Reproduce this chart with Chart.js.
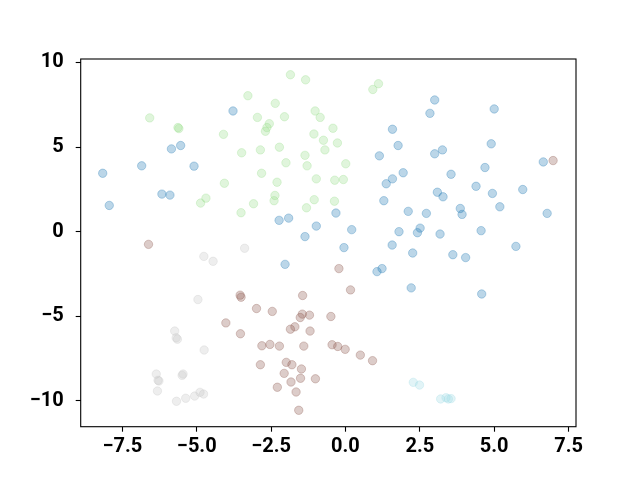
<!DOCTYPE html>
<html>
<head>
    <title>scatter clusters</title>
    <script src="https://cdn.jsdelivr.net/npm/chart.js"></script>
    <style>
        body { margin: 0; background: #fff; }
        #wrap { width: 640px; height: 480px; }
    </style>
</head>
<body>
<div id="wrap"><canvas id="myChart" width="640" height="480"></canvas></div>
<script>
    // cluster points
    const blueX = [-3.78, -5.85, -5.54, -6.85, -5.09, -8.16, 1.58, 1.77, 1.14, 1.94, 1.58, 1.37,
        3.00, 2.84, 5.00, 3.00, 3.26, 4.90, 3.55, 4.69, 6.65, 4.39,
        3.09, 3.28, 4.94, 5.96, 2.11, 2.72, 3.86, 3.92, 5.19, 6.78, 2.51, 2.42, 3.18, 4.56, 5.73, 2.26, 3.61, 4.04, 2.21, 4.58,
        1.29, -2.23, -1.91, -0.32, -0.98, -1.36, 0.21, 1.80, 1.57, -0.05, -2.03, 1.23, 1.06,
        -6.17, -5.90, -7.94];
    const blueY = [7.13, 4.89, 5.09, 3.89, 3.87, 3.45, 6.05, 5.09, 4.48, 3.48, 3.12, 2.83,
        7.78, 6.99, 7.25, 4.60, 4.83, 5.19, 3.39, 3.79, 4.12, 2.68,
        2.33, 2.06, 2.26, 2.49, 1.20, 1.08, 1.37, 1.02, 1.47, 1.08, 0.21, -0.06, -0.14, 0.06, -0.87, -1.26, -1.36, -1.53, -3.32, -3.68,
        1.83, 0.67, 0.80, 1.10, 0.33, -0.29, 0.12, 0.00, -0.79, -0.94, -1.93, -2.18, -2.36,
        2.22, 2.16, 1.55];

    const greenX = [-3.28, -6.58, -5.63, -5.60, -4.10, -3.49, -4.07,
        -1.85, -1.34, -2.36, 1.11, 0.92, -2.96, -2.05, -1.02, -0.85, -2.56, -2.64, -2.69, -0.42, -1.06,
        -0.74, -0.27, -0.69, -2.86, -2.22, -1.36, -2.00, -1.29, 0.01, -2.82, -0.98, -0.36, -0.07, -2.30,
        -2.37, -2.40, -3.09, -1.05, -1.31, -0.37, -3.51, -4.69, -4.87];
    const greenY = [8.03, 6.72, 6.15, 6.09, 5.75, 4.66, 2.86,
        9.27, 8.97, 7.58, 8.74, 8.40, 6.75, 6.79, 7.13, 6.75, 6.38, 6.15, 5.93, 6.11, 5.77,
        5.40, 5.24, 4.83, 4.83, 4.99, 4.51, 4.07, 3.89, 4.01, 3.45, 3.12, 3.04, 3.08, 2.92,
        2.14, 1.83, 1.65, 1.89, 1.41, 1.80, 1.12, 1.98, 1.69];

    const brownX = [6.98, -0.22, 0.17, -1.44, -6.62, -3.54, -3.51, -4.02, -3.53,
        -2.99, -2.46, -1.45, -1.52, -1.21, -0.49, -1.70, -1.85, -1.19, -2.81, -2.54, -2.22, -1.40,
        -0.45, -0.26, -0.01, 0.50, 0.91, -2.86, -1.99, -1.80, -1.48, -1.01, -2.06, -1.83, -1.51,
        -2.29, -1.66, -1.57];
    const brownY = [4.20, -2.18, -3.44, -3.77, -0.75, -3.75, -3.87, -5.39, -6.03,
        -4.54, -4.71, -4.87, -5.07, -4.93, -5.01, -5.62, -5.76, -5.87, -6.74, -6.66, -6.76, -6.76,
        -6.68, -6.78, -6.95, -7.29, -7.62, -7.86, -7.72, -7.86, -8.11, -8.69, -8.37, -8.88, -8.66,
        -9.19, -9.47, -10.55];

    const grayX = [-3.39, -4.76, -4.45, -4.96, -5.74, -5.69, -5.65, -4.75, -6.36, -6.27, -6.30,
        -5.46, -5.49, -6.32, -5.68, -5.37, -5.07, -4.89, -4.77];
    const grayY = [-0.98, -1.46, -1.75, -4.01, -5.87, -6.27, -6.35, -6.99, -8.41, -8.82, -8.78,
        -8.41, -8.49, -9.41, -10.02, -9.84, -9.71, -9.49, -9.59];

    const cyanX = [2.28, 2.49, 3.20, 3.38, 3.46, 3.55];
    const cyanY = [-8.90, -9.06, -9.88, -9.81, -9.88, -9.86];

    const xTicks = [-7.5, -5.0, -2.5, 0.0, 2.5, 5.0, 7.5];
    const yTicks = [-10, -5, 0, 5, 10];

    function pts(xs, ys) {
        return xs.map((x, i) => ({ x: x, y: ys[i] }));
    }
    function minus(s) {
        return String(s).replace('-', '\u2212');
    }

    // the full box round the plot area
    const frame = {
        id: 'frame',
        afterDatasetsDraw(chart) {
            const a = chart.chartArea;
            const c = chart.ctx;
            c.save();
            c.strokeStyle = '#000';
            c.lineWidth = 1.1;
            c.strokeRect(a.left, a.top, a.right - a.left, a.bottom - a.top);
            c.restore();
        }
    };

    function ds(label, xs, ys, rgb) {
        return {
            label: label,
            data: pts(xs, ys),
            backgroundColor: 'rgba(' + rgb + ',0.3)',
            borderColor: 'rgba(' + rgb + ',0.3)',
            borderWidth: 1,
            pointRadius: 4.2,
            pointHoverRadius: 4.2
        };
    }

    const tickFont = { family: 'Roboto', size: 20, weight: 'bold' };

    const ctx = document.getElementById('myChart').getContext('2d');
    new Chart(ctx, {
        type: 'scatter',
        data: {
            datasets: [
                ds('0', blueX, blueY, '31,119,180'),
                ds('1', greenX, greenY, '152,223,138'),
                ds('2', brownX, brownY, '140,86,75'),
                ds('3', grayX, grayY, '199,199,199'),
                ds('4', cyanX, cyanY, '158,218,229')
            ]
        },
        options: {
            responsive: false,
            animation: false,
            layout: { padding: { top: 59, right: 64, left: 0, bottom: 0 } },
            plugins: { legend: { display: false }, tooltip: { enabled: false } },
            scales: {
                x: {
                    type: 'linear',
                    min: -8.9,
                    max: 7.75,
                    afterBuildTicks: s => { s.ticks = xTicks.map(v => ({ value: v })); },
                    afterFit: s => { s.height = 53.3; },
                    border: { display: false },
                    grid: { drawOnChartArea: false, drawTicks: true, tickLength: 5, color: '#000', tickWidth: 1.1 },
                    ticks: {
                        color: '#000',
                        font: tickFont,
                        padding: 3,
                        maxRotation: 0,
                        callback: v => minus(v.toFixed(1))
                    }
                },
                y: {
                    type: 'linear',
                    min: -11.52,
                    max: 10.2,
                    afterBuildTicks: s => { s.ticks = yTicks.map(v => ({ value: v })); },
                    afterFit: s => { s.width = 80.7; },
                    border: { display: false },
                    grid: { drawOnChartArea: false, drawTicks: true, tickLength: 5, color: '#000', tickWidth: 1.1 },
                    ticks: {
                        color: '#000',
                        font: tickFont,
                        padding: 12,
                        callback: v => minus(v)
                    }
                }
            }
        },
        plugins: [frame]
    });
</script>
</body>
</html>
